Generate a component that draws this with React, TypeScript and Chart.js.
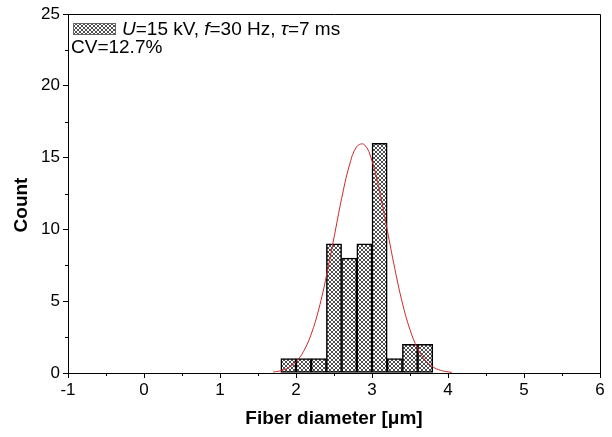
import React, { useEffect, useRef } from "react";
import { Chart, registerables } from "chart.js";

Chart.register(...registerables);

// ---- data ----
const binCenters = [1.9, 2.1, 2.3, 2.5, 2.7, 2.9, 3.1, 3.3, 3.5, 3.7];
const counts = [1, 1, 1, 9, 8, 9, 16, 1, 2, 2];

const fitX = [1.7, 1.8, 1.9, 2.0, 2.1, 2.2, 2.3, 2.4, 2.5, 2.6, 2.7, 2.8, 2.9, 3.0, 3.1, 3.2, 3.3, 3.4, 3.5, 3.6, 3.7, 3.8, 3.9, 4.0, 4.05];
const fitY = [0.07, 0.16, 0.37, 0.78, 1.51, 2.7, 4.45, 6.75, 9.43, 12.14, 14.41, 15.77, 15.9, 14.77, 12.65, 9.98, 7.26, 4.87, 3.01, 1.71, 0.9, 0.43, 0.19, 0.08, 0.05];

const xMin = -1;
const xMax = 6;
const yMin = 0;
const yMax = 25;
const xMinorTicks = [-0.5, 0.5, 1.5, 2.5, 3.5, 4.5, 5.5];
const yMinorTicks = [2.5, 7.5, 12.5, 17.5, 22.5];

const legendSegments = [
  { t: "U", i: true },
  { t: "=15 kV, ", i: false },
  { t: "f", i: true },
  { t: "=30 Hz, ", i: false },
  { t: "τ", i: true },
  { t: "=7 ms", i: false },
];
const cvLabel = "CV=12.7%";
const xTitle = "Fiber diameter [μm]";
const yTitle = "Count";

const FONT = "'Liberation Sans', Arial, sans-serif";

function makePattern(): CanvasPattern | string {
  const c = document.createElement("canvas");
  c.width = 4;
  c.height = 4;
  const g = c.getContext("2d");
  if (!g) return "#999";
  g.fillStyle = "#ffffff";
  g.fillRect(0, 0, 4, 4);
  g.fillStyle = "#505050";
  for (let i = 0; i < 4; i++) {
    g.fillRect(i, i, 1, 1);
    g.fillRect(3 - i, i, 1, 1);
  }
  const p = g.createPattern(c, "repeat");
  return p || "#999";
}

export default function App() {
  const ref = useRef<HTMLCanvasElement>(null);

  useEffect(() => {
    document.body.style.margin = "0";
    const canvas = ref.current;
    if (!canvas) return;
    const pattern = makePattern();

    const decorPlugin = {
      id: "decor",
      afterDraw(chart: any) {
        const ctx = chart.ctx as CanvasRenderingContext2D;
        const { left, right, top, bottom } = chart.chartArea;
        const xs = chart.scales.x;
        const ys = chart.scales.y;
        ctx.save();
        ctx.strokeStyle = "#000";
        ctx.lineWidth = 1;
        // top & right frame
        ctx.beginPath();
        ctx.moveTo(Math.round(left), Math.round(top) + 0.5);
        ctx.lineTo(Math.round(right) + 0.5, Math.round(top) + 0.5);
        ctx.lineTo(Math.round(right) + 0.5, Math.round(bottom));
        ctx.stroke();
        // minor ticks
        ctx.beginPath();
        for (const v of xMinorTicks) {
          const px = Math.round(xs.getPixelForValue(v)) + 0.5;
          ctx.moveTo(px, bottom);
          ctx.lineTo(px, bottom + 3);
        }
        for (const v of yMinorTicks) {
          const py = Math.round(ys.getPixelForValue(v)) + 0.5;
          ctx.moveTo(left, py);
          ctx.lineTo(left - 3, py);
        }
        ctx.stroke();

        // y-axis title
        ctx.save();
        ctx.translate(22, 205);
        ctx.rotate(-Math.PI / 2);
        ctx.font = "bold 19px " + FONT;
        ctx.fillStyle = "#000";
        ctx.textAlign = "center";
        ctx.textBaseline = "middle";
        ctx.fillText(yTitle, 0, 0);
        ctx.restore();

        // legend
        const bx = left + 5;
        const by = top + 9;
        ctx.fillStyle = pattern as any;
        ctx.fillRect(bx, by, 43, 12);
        ctx.strokeStyle = "#666";
        ctx.strokeRect(bx + 0.5, by + 0.5, 42, 11);
        ctx.fillStyle = "#000";
        ctx.textBaseline = "middle";
        ctx.textAlign = "left";
        let tx = bx + 49;
        const ty = by + 7;
        for (const s of legendSegments) {
          ctx.font = (s.i ? "italic " : "") + "19px " + FONT;
          ctx.fillText(s.t, tx, ty);
          tx += ctx.measureText(s.t).width;
        }
        ctx.font = "19px " + FONT;
        ctx.fillText(cvLabel, left + 3, top + 34);
        ctx.restore();
      },
    };

    const chart = new Chart(canvas, {
      type: "bar",
      data: {
        datasets: [
          {
            type: "line",
            label: "fit",
            data: fitX.map((x, i) => ({ x, y: fitY[i] })),
            borderColor: "#d02828",
            borderWidth: 1,
            pointRadius: 0,
            tension: 0.4,
            fill: false,
            order: 0,
          } as any,
          {
            type: "bar",
            label: "counts",
            data: binCenters.map((x, i) => ({ x, y: counts[i] })),
            backgroundColor: pattern as any,
            borderColor: "#000",
            borderWidth: 1.5,
            borderSkipped: false,
            barPercentage: 1,
            categoryPercentage: 1,
            order: 1,
          } as any,
        ],
      },
      options: {
        responsive: false,
        animation: false,
        devicePixelRatio: 1,
        layout: { padding: { left: 0, right: 12, top: 14, bottom: 0 } },
        plugins: {
          legend: { display: false },
          tooltip: { enabled: false },
        },
        scales: {
          x: {
            type: "linear",
            min: xMin,
            max: xMax,
            offset: false,
            afterFit: (s: any) => {
              s.height = 64;
            },
            grid: {
              display: true,
              drawOnChartArea: false,
              drawTicks: true,
              tickLength: 5,
              tickColor: "#000",
              offset: false,
            },
            border: { display: true, color: "#000", width: 1 },
            ticks: {
              stepSize: 1,
              color: "#000",
              padding: 2,
              font: { family: FONT, size: 17 },
              maxRotation: 0,
            },
            title: {
              display: true,
              text: xTitle,
              color: "#000",
              font: { family: FONT, size: 19, weight: "bold" },
              padding: { top: 0, bottom: 7 },
            },
          },
          y: {
            min: yMin,
            max: yMax,
            afterFit: (s: any) => {
              s.width = 68;
            },
            grid: {
              display: true,
              drawOnChartArea: false,
              drawTicks: true,
              tickLength: 5,
              tickColor: "#000",
            },
            border: { display: true, color: "#000", width: 1 },
            ticks: {
              stepSize: 5,
              color: "#000",
              padding: 3,
              font: { family: FONT, size: 17 },
            },
            title: { display: false, text: yTitle },
          },
        },
      },
      plugins: [decorPlugin],
    } as any);

    return () => chart.destroy();
  }, []);

  return (
    <canvas
      ref={ref}
      width={612}
      height={437}
      style={{ display: "block", width: 612, height: 437 }}
    />
  );
}
